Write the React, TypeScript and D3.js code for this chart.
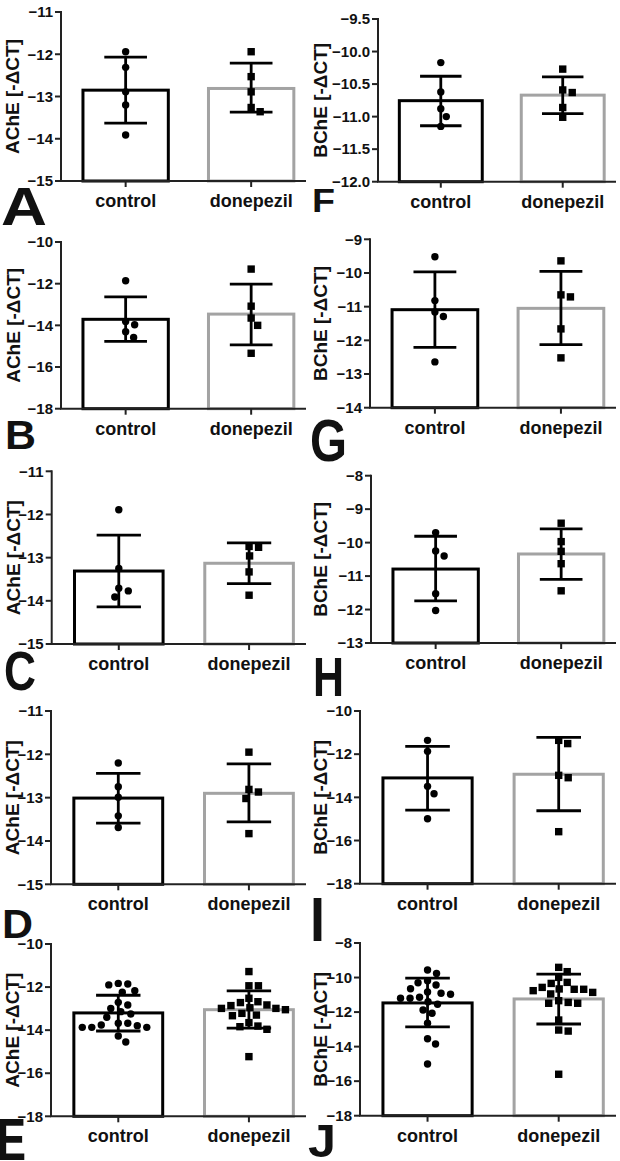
import React from 'react';
import * as d3 from 'd3';

// ---------- data ----------
const categories = ['control', 'donepezil'];
const panelIds = ['A', 'B', 'C', 'D', 'E', 'F', 'G', 'H', 'I', 'J'];
const yLabels = ['AChE [-ΔCT]', 'AChE [-ΔCT]', 'AChE [-ΔCT]', 'AChE [-ΔCT]', 'AChE [-ΔCT]',
  'BChE [-ΔCT]', 'BChE [-ΔCT]', 'BChE [-ΔCT]', 'BChE [-ΔCT]', 'BChE [-ΔCT]'];

const ticksA = [-15, -14, -13, -12, -11];
const ticksB = [-18, -16, -14, -12, -10];
const ticksC = [-15, -14, -13, -12, -11];
const ticksD = [-15, -14, -13, -12, -11];
const ticksE = [-18, -16, -14, -12, -10];
const ticksF = [-12.0, -11.5, -11.0, -10.5, -10.0, -9.5];
const ticksG = [-14, -13, -12, -11, -10, -9];
const ticksH = [-13, -12, -11, -10, -9, -8];
const ticksI = [-18, -16, -14, -12, -10];
const ticksJ = [-18, -16, -14, -12, -10, -8];
const tickSets = [ticksA, ticksB, ticksC, ticksD, ticksE, ticksF, ticksG, ticksH, ticksI, ticksJ];
const tickDecimals = [0, 0, 0, 0, 0, 1, 0, 0, 0, 0];

const controlA = [-11.94, -12.31, -12.89, -13.20, -13.91];
const donepezilA = [-11.94, -12.53, -12.89, -13.26, -13.36];
const controlB = [-11.86, -13.81, -13.97, -14.31, -14.58];
const donepezilB = [-11.30, -13.08, -13.65, -14.00, -15.34];
const controlC = [-11.89, -13.25, -13.71, -13.77, -13.91];
const donepezilC = [-12.74, -12.76, -12.96, -13.33, -13.87];
const controlD = [-12.20, -12.75, -12.99, -13.42, -13.69];
const donepezilD = [-11.95, -12.81, -12.87, -13.02, -13.83];
const controlE = [-11.86, -11.90, -11.83, -12.24, -12.17, -12.71, -12.83, -12.99, -13.14, -13.40,
  -13.25, -13.68, -13.79, -13.87, -13.87, -13.87, -13.76, -13.68, -14.27, -14.55];
const donepezilE = [-11.28, -11.94, -11.94, -12.68, -12.86, -12.99, -12.83, -12.72, -12.52, -12.99,
  -12.96, -13.22, -13.33, -13.30, -13.05, -13.65, -13.84, -13.96, -13.81, -15.23];
const controlF = [-10.17, -10.62, -10.88, -11.00, -11.15];
const donepezilF = [-10.27, -10.59, -10.63, -10.86, -11.01];
const controlG = [-9.52, -10.82, -11.16, -11.29, -12.64];
const donepezilG = [-9.64, -10.65, -10.71, -11.66, -12.52];
const controlH = [-9.70, -10.25, -10.40, -11.53, -12.03];
const donepezilH = [-9.42, -9.97, -10.26, -10.63, -11.44];
const controlI = [-11.36, -11.87, -13.49, -13.83, -14.99];
const donepezilI = [-11.36, -11.51, -12.98, -13.09, -15.59];
const controlJ = [-9.56, -9.76, -10.30, -10.43, -10.18, -10.84, -10.97, -11.20, -11.20, -11.14,
  -10.91, -10.65, -11.55, -11.40, -11.88, -12.07, -12.65, -13.54, -13.85, -15.01];
const donepezilJ = [-9.41, -9.66, -9.99, -10.28, -10.34, -10.57, -10.68, -10.76, -10.68, -10.66,
  -10.95, -10.86, -11.34, -11.49, -11.49, -11.44, -12.46, -13.04, -13.10, -15.60];
const controlPoints = [controlA, controlB, controlC, controlD, controlE, controlF, controlG, controlH, controlI, controlJ];
const donepezilPoints = [donepezilA, donepezilB, donepezilC, donepezilD, donepezilE, donepezilF, donepezilG, donepezilH, donepezilI, donepezilJ];

const controlMeans = [-12.85, -13.71, -13.31, -13.01, -13.20, -10.755, -11.09, -10.79, -13.10, -11.47];
const controlErrLow = [-13.63, -14.77, -14.14, -13.59, -14.04, -11.14, -12.21, -11.74, -14.59, -12.86];
const controlErrHigh = [-12.07, -12.63, -12.48, -12.44, -12.38, -10.38, -9.97, -9.81, -11.64, -10.03];
const donepezilMeans = [-12.81, -13.46, -13.13, -12.90, -13.05, -10.67, -11.05, -10.34, -12.93, -11.24];
const donepezilErrLow = [-13.37, -14.94, -13.60, -13.56, -13.91, -10.955, -12.13, -11.10, -14.62, -12.69];
const donepezilErrHigh = [-12.21, -12.02, -12.66, -12.22, -12.18, -10.39, -9.95, -9.59, -11.22, -9.80];

// ---------- layout ----------
const frames = [
  { left: 61, right: 306, top: 12, bottom: 181, labelX: 12.5 },
  { left: 61, right: 306, top: 242, bottom: 408.7, labelX: 13 },
  { left: 51.7, right: 306, top: 471.3, bottom: 644, labelX: 13 },
  { left: 51, right: 306, top: 711, bottom: 884.3, labelX: 12.5 },
  { left: 51, right: 306, top: 944, bottom: 1116.3, labelX: 12.5 },
  { left: 378, right: 616, top: 19, bottom: 181.7, labelX: 320 },
  { left: 370, right: 616, top: 239.3, bottom: 407.7, labelX: 320 },
  { left: 371, right: 616, top: 475.7, bottom: 643, labelX: 320 },
  { left: 360, right: 616, top: 711, bottom: 883.7, labelX: 320 },
  { left: 360, right: 616, top: 943, bottom: 1115.7, labelX: 320 },
];
const letterLayout = [
  { x: 1, y: 225, size: 53, w: 46 },
  { x: 5, y: 449, size: 40, w: 31 },
  { x: 4, y: 690, size: 56, w: 32 },
  { x: 2, y: 938, size: 40, w: 31 },
  { x: -3, y: 1160, size: 60, w: 29 },
  { x: 312, y: 212, size: 34, w: 23 },
  { x: 310, y: 461, size: 60, w: 37 },
  { x: 313, y: 696, size: 56, w: 31 },
  { x: 310, y: 941, size: 63, w: 15 },
  { x: 308, y: 1157, size: 46, w: 28 },
];

const FONT = '"Liberation Sans", Arial, Helvetica, sans-serif';

function swarm(ys: number[], D: number): number[] {
  const order = ys.map((_, i) => i).sort((a, b) => ys[a] - ys[b]);
  const placed: { x: number; y: number }[] = [];
  const xs = new Array(ys.length).fill(0);
  for (const i of order) {
    const y = ys[i];
    let best = 0;
    for (let k = 0; k < 600; k++) {
      const off = (k % 2 === 1 ? 1 : -1) * Math.ceil(k / 2) * 0.5;
      if (placed.every((p) => Math.hypot(p.x - off, p.y - y) >= D)) {
        best = off;
        break;
      }
    }
    xs[i] = best;
    placed.push({ x: best, y });
  }
  return xs;
}

function Panel({ idx }: { idx: number }) {
  const f = frames[idx];
  const ticks = tickSets[idx];
  const y = d3.scaleLinear().domain([ticks[0], ticks[ticks.length - 1]]).range([f.bottom, f.top]);
  const x = d3
    .scaleBand<string>()
    .domain(categories)
    .range([f.left, f.left + (f.right - f.left) * 1.04])
    .paddingInner(0.32)
    .paddingOuter(0.175);
  const bw = x.bandwidth();
  const fmt = d3.format(tickDecimals[idx] ? '.1f' : 'd');
  const groups = [
    { name: 'control', pts: controlPoints[idx], mean: controlMeans[idx], lo: controlErrLow[idx], hi: controlErrHigh[idx], stroke: '#000', shape: 'circle' },
    { name: 'donepezil', pts: donepezilPoints[idx], mean: donepezilMeans[idx], lo: donepezilErrLow[idx], hi: donepezilErrHigh[idx], stroke: '#a3a3a3', shape: 'square' },
  ];
  const cy = (f.top + f.bottom) / 2;
  return (
    <g>
      {groups.map((g) => {
        const x0 = x(g.name)!;
        const cx = x0 + bw / 2;
        const py = g.pts.map((v) => y(v));
        const offs = swarm(py, 9.5);
        const cap = bw * 0.25;
        return (
          <g key={g.name}>
            <rect x={x0} y={y(g.mean)} width={bw} height={f.bottom - y(g.mean)} fill="#fff" stroke={g.stroke} strokeWidth={3} />
            {g.pts.map((v, i) =>
              g.shape === 'circle' ? (
                <circle key={i} cx={cx + offs[i]} cy={py[i]} r={3.7} fill="#000" />
              ) : (
                <rect key={i} x={cx + offs[i] - 3.7} y={py[i] - 3.7} width={7.4} height={7.4} fill="#000" />
              )
            )}
            <line x1={cx} x2={cx} y1={y(g.lo)} y2={y(g.hi)} stroke="#000" strokeWidth={2.8} />
            <line x1={cx - cap} x2={cx + cap} y1={y(g.lo)} y2={y(g.lo)} stroke="#000" strokeWidth={2.8} />
            <line x1={cx - cap} x2={cx + cap} y1={y(g.hi)} y2={y(g.hi)} stroke="#000" strokeWidth={2.8} />
          </g>
        );
      })}
      {/* axes */}
      <line x1={f.left} x2={f.left} y1={f.top - 1} y2={f.bottom} stroke="#222" strokeWidth={2} />
      <line x1={f.left - 1} x2={f.right} y1={f.bottom} y2={f.bottom} stroke="#222" strokeWidth={2} />
      {ticks.map((t) => (
        <g key={t}>
          <line x1={f.left - 6} x2={f.left} y1={y(t)} y2={y(t)} stroke="#222" strokeWidth={2} />
          <text x={f.left - 8} y={y(t)} dy="0.35em" textAnchor="end" fontFamily={FONT} fontWeight="bold" fontSize={15} fill="#111">
            {fmt(t)}
          </text>
        </g>
      ))}
      {categories.map((c) => {
        const cx = x(c)! + bw / 2;
        return (
          <g key={c}>
            <line x1={cx} x2={cx} y1={f.bottom} y2={f.bottom + 6} stroke="#222" strokeWidth={2} />
            <text x={cx} y={f.bottom + 26} textAnchor="middle" fontFamily={FONT} fontWeight="bold" fontSize={18} fill="#111">
              {c}
            </text>
          </g>
        );
      })}
      <text
        transform={`translate(${f.labelX},${cy}) rotate(-90)`}
        dy="0.35em"
        textAnchor="middle"
        fontFamily={FONT}
        fontWeight="bold"
        fontSize={19}
        fill="#111"
      >
        {yLabels[idx]}
      </text>
      <text
        x={letterLayout[idx].x}
        y={letterLayout[idx].y}
        fontFamily={FONT}
        fontWeight="bold"
        fontSize={letterLayout[idx].size}
        textLength={letterLayout[idx].w}
        lengthAdjust="spacingAndGlyphs"
        fill="#111"
      >
        {panelIds[idx]}
      </text>
    </g>
  );
}

export default function App() {
  return (
    <svg
      width={620}
      height={1161}
      viewBox="0 0 620 1161"
      style={{ position: 'absolute', left: 0, top: 0, display: 'block', background: '#fff' }}
    >
      <rect x={0} y={0} width={620} height={1161} fill="#fff" />
      {panelIds.map((_, i) => (
        <Panel key={i} idx={i} />
      ))}
    </svg>
  );
}
